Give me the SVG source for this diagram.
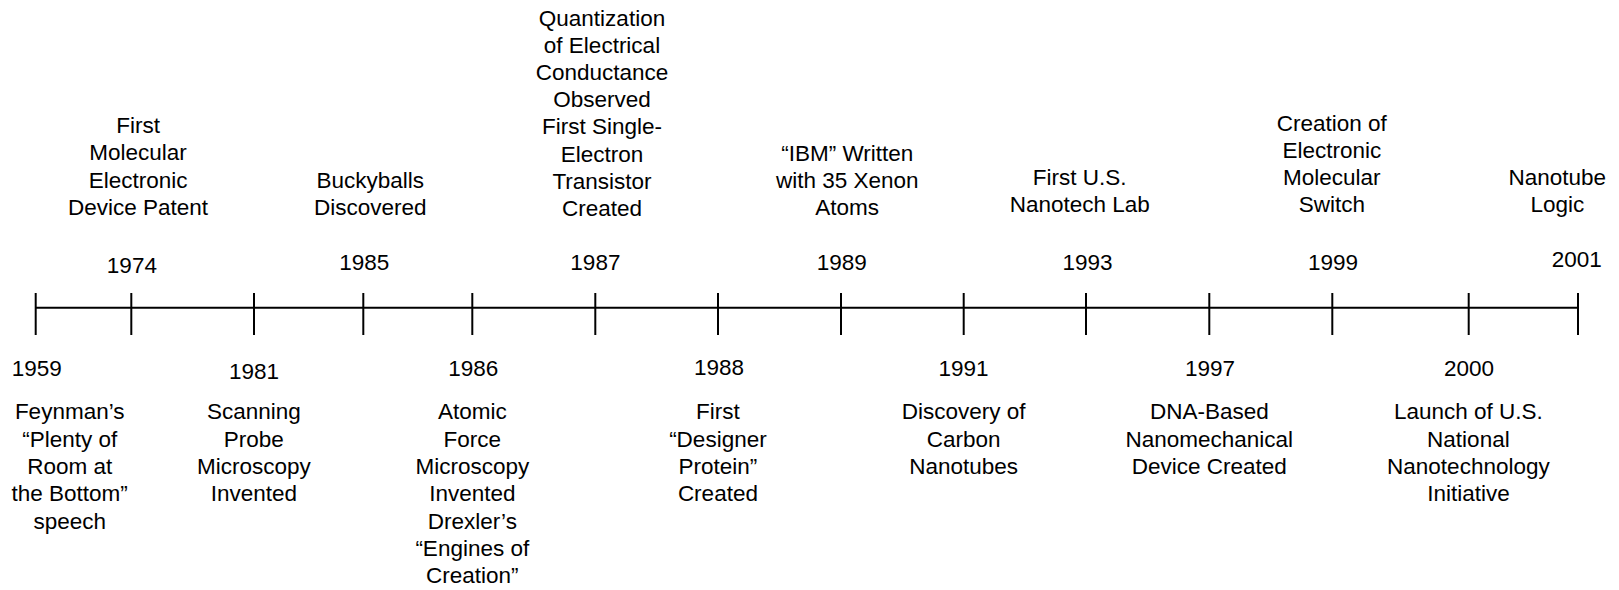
<svg xmlns="http://www.w3.org/2000/svg" width="1619" height="590" viewBox="0 0 1619 590">
<style>
  text { font-family: "Liberation Sans", Arial, sans-serif; font-size: 22.5px; fill: #000; text-anchor: middle; }
  .axis { stroke: #000; stroke-width: 2; fill: none; }
</style>
<rect width="1619" height="590" fill="#fff"/>
<g id="connectors">
  <line class="axis" x1="35.7" y1="307.7" x2="1578" y2="307.7"/>
  <line class="axis" x1="35.7" y1="293" x2="35.7" y2="335"/>
  <line class="axis" x1="131.3" y1="293" x2="131.3" y2="335"/>
  <line class="axis" x1="254" y1="293" x2="254" y2="335"/>
  <line class="axis" x1="363.3" y1="293" x2="363.3" y2="335"/>
  <line class="axis" x1="472.3" y1="293" x2="472.3" y2="335"/>
  <line class="axis" x1="595.3" y1="293" x2="595.3" y2="335"/>
  <line class="axis" x1="718" y1="293" x2="718" y2="335"/>
  <line class="axis" x1="841" y1="293" x2="841" y2="335"/>
  <line class="axis" x1="963.7" y1="293" x2="963.7" y2="335"/>
  <line class="axis" x1="1086" y1="293" x2="1086" y2="335"/>
  <line class="axis" x1="1209.3" y1="293" x2="1209.3" y2="335"/>
  <line class="axis" x1="1332.3" y1="293" x2="1332.3" y2="335"/>
  <line class="axis" x1="1468.7" y1="293" x2="1468.7" y2="335"/>
  <line class="axis" x1="1578" y1="293" x2="1578" y2="335"/>
</g>
<g id="e1959">
  <text x="36.8" y="376">1959</text>
  <text y="419.3"><tspan x="69.7">Feynman’s</tspan><tspan x="69.7" dy="27.3">“Plenty of</tspan><tspan x="69.7" dy="27.3">Room at</tspan><tspan x="69.7" dy="27.3">the Bottom”</tspan><tspan x="69.7" dy="27.3">speech</tspan></text>
</g>
<g id="e1974">
  <text x="131.9" y="273.3">1974</text>
  <text y="133"><tspan x="138.1">First</tspan><tspan x="138.1" dy="27.3">Molecular</tspan><tspan x="138.1" dy="27.3">Electronic</tspan><tspan x="138.1" dy="27.3">Device Patent</tspan></text>
</g>
<g id="e1981">
  <text x="254.1" y="379.3">1981</text>
  <text y="419.3"><tspan x="253.8">Scanning</tspan><tspan x="253.8" dy="27.3">Probe</tspan><tspan x="253.8" dy="27.3">Microscopy</tspan><tspan x="253.8" dy="27.3">Invented</tspan></text>
</g>
<g id="e1985">
  <text x="364.2" y="270">1985</text>
  <text y="188.3"><tspan x="370.2">Buckyballs</tspan><tspan x="370.2" dy="27">Discovered</tspan></text>
</g>
<g id="e1986">
  <text x="473.3" y="376">1986</text>
  <text y="419.3"><tspan x="472.3">Atomic</tspan><tspan x="472.3" dy="27.33">Force</tspan><tspan x="472.3" dy="27.33">Microscopy</tspan><tspan x="472.3" dy="27.33">Invented</tspan><tspan x="472.3" dy="27.33">Drexler’s</tspan><tspan x="472.3" dy="27.33">“Engines of</tspan><tspan x="472.3" dy="27.33">Creation”</tspan></text>
</g>
<g id="e1987">
  <text x="595.4" y="270">1987</text>
  <text y="25.5"><tspan x="602">Quantization</tspan><tspan x="602" dy="27.2">of Electrical</tspan><tspan x="602" dy="27.2">Conductance</tspan><tspan x="602" dy="27.2">Observed</tspan><tspan x="602" dy="27.2">First Single-</tspan><tspan x="602" dy="27.2">Electron</tspan><tspan x="602" dy="27.2">Transistor</tspan><tspan x="602" dy="27.2">Created</tspan></text>
</g>
<g id="e1988">
  <text x="719" y="375">1988</text>
  <text y="419.3"><tspan x="717.9">First</tspan><tspan x="717.9" dy="27.2">“Designer</tspan><tspan x="717.9" dy="27.2">Protein”</tspan><tspan x="717.9" dy="27.2">Created</tspan></text>
</g>
<g id="e1989">
  <text x="841.7" y="270">1989</text>
  <text y="161"><tspan x="847.2">“IBM” Written</tspan><tspan x="847.2" dy="27.1">with 35 Xenon</tspan><tspan x="847.2" dy="27.1">Atoms</tspan></text>
</g>
<g id="e1991">
  <text x="963.6" y="376">1991</text>
  <text y="419.3"><tspan x="963.6">Discovery of</tspan><tspan x="963.6" dy="27.3">Carbon</tspan><tspan x="963.6" dy="27.3">Nanotubes</tspan></text>
</g>
<g id="e1993">
  <text x="1087.5" y="270">1993</text>
  <text y="185"><tspan x="1079.7">First U.S.</tspan><tspan x="1079.7" dy="27.3">Nanotech Lab</tspan></text>
</g>
<g id="e1997">
  <text x="1210" y="376">1997</text>
  <text y="419.3"><tspan x="1209.3">DNA-Based</tspan><tspan x="1209.3" dy="27.3">Nanomechanical</tspan><tspan x="1209.3" dy="27.3">Device Created</tspan></text>
</g>
<g id="e1999">
  <text x="1333" y="270">1999</text>
  <text y="131"><tspan x="1331.8">Creation of</tspan><tspan x="1331.8" dy="27.1">Electronic</tspan><tspan x="1331.8" dy="27.1">Molecular</tspan><tspan x="1331.8" dy="27.1">Switch</tspan></text>
</g>
<g id="e2000">
  <text x="1469" y="376">2000</text>
  <text y="419.3"><tspan x="1468.4">Launch of U.S.</tspan><tspan x="1468.4" dy="27.3">National</tspan><tspan x="1468.4" dy="27.3">Nanotechnology</tspan><tspan x="1468.4" dy="27.3">Initiative</tspan></text>
</g>
<g id="e2001">
  <text x="1576.7" y="267.3">2001</text>
  <text y="185"><tspan x="1557.3">Nanotube</tspan><tspan x="1557.3" dy="26.8">Logic</tspan></text>
</g>
</svg>
